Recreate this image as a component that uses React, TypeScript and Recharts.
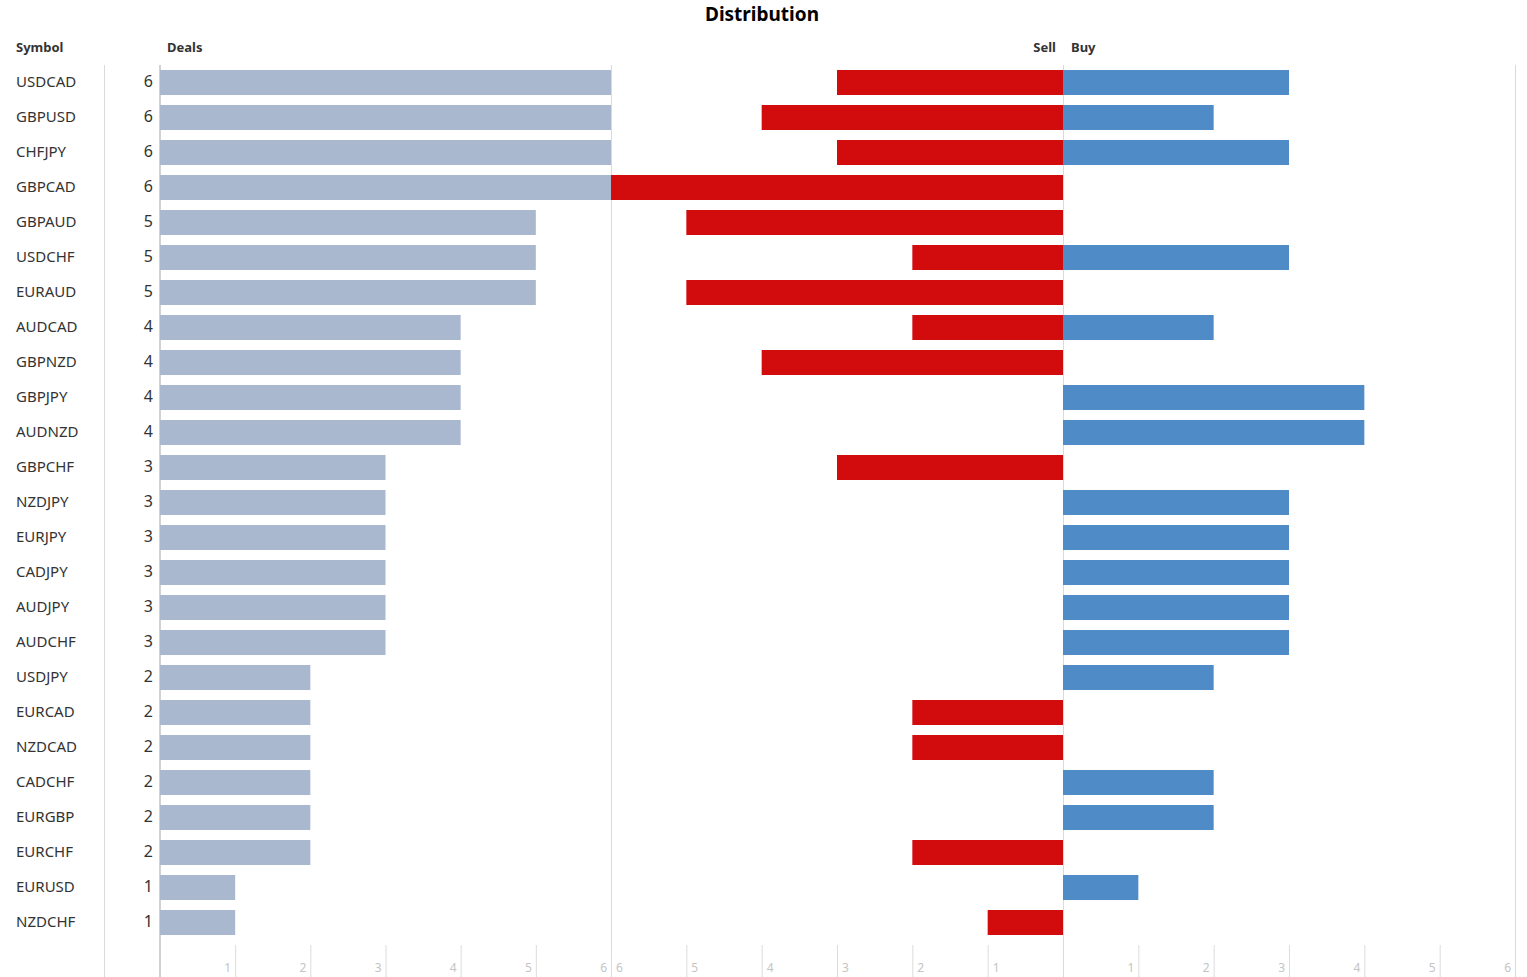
import { BarChart, Bar, XAxis, YAxis } from 'recharts';

const symbols = [
  'USDCAD', 'GBPUSD', 'CHFJPY', 'GBPCAD', 'GBPAUD', 'USDCHF', 'EURAUD', 'AUDCAD', 'GBPNZD',
  'GBPJPY', 'AUDNZD', 'GBPCHF', 'NZDJPY', 'EURJPY', 'CADJPY', 'AUDJPY', 'AUDCHF', 'USDJPY',
  'EURCAD', 'NZDCAD', 'CADCHF', 'EURGBP', 'EURCHF', 'EURUSD', 'NZDCHF',
];
const deals = [6, 6, 6, 6, 5, 5, 5, 4, 4, 4, 4, 3, 3, 3, 3, 3, 3, 2, 2, 2, 2, 2, 2, 1, 1];
const sell = [3, 4, 3, 6, 5, 2, 5, 2, 4, 0, 0, 3, 0, 0, 0, 0, 0, 0, 2, 2, 0, 0, 2, 0, 1];
const buy = [3, 2, 3, 0, 0, 3, 0, 2, 0, 4, 4, 0, 3, 3, 3, 3, 3, 2, 0, 0, 2, 2, 0, 1, 0];
const axisTicks = [1, 2, 3, 4, 5, 6];

const rows = symbols.map((symbol, i) => ({ symbol, deals: deals[i], sell: sell[i], buy: buy[i] }));

const FONT = '"Noto Sans", "Open Sans", sans-serif';
const TOP = 65;
const AXIS_H = 37;
const H = 977;

function AxisTick({ x, y, payload, side }: any) {
  const left = side === 'left';
  return (
    <g>
      <line x1={x + 0.5} x2={x + 0.5} y1={y + 5} y2={y + AXIS_H} stroke="#dcdcdc" strokeWidth={1} />
      <text
        x={left ? x - 4 : x + 5}
        y={y + 32}
        textAnchor={left ? 'end' : 'start'}
        fontSize={12}
        fontFamily={FONT}
        fill="#c4c4c4"
      >
        {payload.value}
      </text>
    </g>
  );
}

function SymbolTick({ y, payload, index }: any) {
  return (
    <g fontFamily={FONT} fontSize={15} fill="#333">
      <text x={16} y={y - 1} dy="0.35em" textAnchor="start">{payload.value}</text>
      <text x={153} y={y - 1} dy="0.35em" textAnchor="end" fontSize={16}>{deals[index]}</text>
    </g>
  );
}

export default function App() {
  const vlines = [104.5, 611.5, 1063.5, 1515.5];
  return (
    <div style={{ position: 'absolute', left: 0, top: 0, width: 1527, height: H, background: '#fff', fontFamily: FONT }}>
      <svg width={1527} height={H} style={{ position: 'absolute', left: 0, top: 0 }}>
        {vlines.map((x) => (
          <line key={x} x1={x} x2={x} y1={TOP} y2={H} stroke="#dadada" strokeWidth={1} />
        ))}
        <rect x={159} y={TOP} width={2} height={H - TOP} fill="#d2d2d2" />
        <text x={762} y={21} textAnchor="middle" fontSize={19} fontWeight="bold" fill="#000" fontFamily={FONT}>
          Distribution
        </text>
        <g fontSize={13} fontWeight="bold" fill="#333" fontFamily={FONT}>
          <text x={16} y={52}>Symbol</text>
          <text x={167} y={52}>Deals</text>
          <text x={1056} y={52} textAnchor="end">Sell</text>
          <text x={1071} y={52}>Buy</text>
        </g>
      </svg>

      <div style={{ position: 'absolute', left: 0, top: 0 }}>
        <BarChart width={611} height={H} layout="vertical" data={rows} margin={{ top: TOP, right: 0, bottom: 0, left: 0 }}>
          <YAxis type="category" dataKey="symbol" width={160} axisLine={false} tickLine={false} interval={0} tick={SymbolTick} />
          <XAxis
            type="number"
            domain={[0, 6]}
            ticks={axisTicks}
            height={AXIS_H}
            axisLine={false}
            tickLine={false}
            tickSize={0}
            tickMargin={0}
            interval={0}
            tick={(p: any) => <AxisTick {...p} side="left" />}
          />
          <Bar dataKey="deals" fill="#a9b8cf" barSize={25} isAnimationActive={false} />
        </BarChart>
      </div>

      <div style={{ position: 'absolute', left: 611, top: 0 }}>
        <BarChart width={452} height={H} layout="vertical" data={rows} margin={{ top: TOP, right: 0, bottom: 0, left: 0 }}>
          <YAxis type="category" dataKey="symbol" hide />
          <XAxis
            type="number"
            domain={[0, 6]}
            reversed
            ticks={axisTicks}
            height={AXIS_H}
            axisLine={false}
            tickLine={false}
            tickSize={0}
            tickMargin={0}
            interval={0}
            tick={(p: any) => <AxisTick {...p} side="right" />}
          />
          <Bar dataKey="sell" fill="#d20c0c" barSize={25} isAnimationActive={false} />
        </BarChart>
      </div>

      <div style={{ position: 'absolute', left: 1063, top: 0 }}>
        <BarChart width={452} height={H} layout="vertical" data={rows} margin={{ top: TOP, right: 0, bottom: 0, left: 0 }}>
          <YAxis type="category" dataKey="symbol" hide />
          <XAxis
            type="number"
            domain={[0, 6]}
            ticks={axisTicks}
            height={AXIS_H}
            axisLine={false}
            tickLine={false}
            tickSize={0}
            tickMargin={0}
            interval={0}
            tick={(p: any) => <AxisTick {...p} side="left" />}
          />
          <Bar dataKey="buy" fill="#4f8bc6" barSize={25} isAnimationActive={false} />
        </BarChart>
      </div>
    </div>
  );
}
